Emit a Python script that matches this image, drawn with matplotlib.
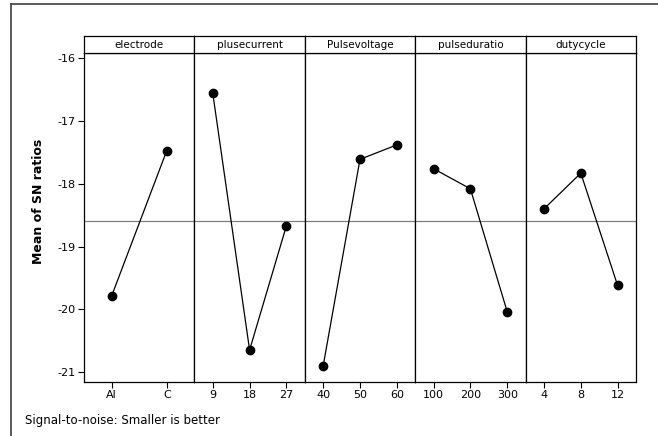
import numpy as np
import matplotlib.pyplot as plt
from matplotlib.lines import Line2D

# factors of the main effects plot
factors = ['electrode', 'plusecurrent', 'Pulsevoltage', 'pulseduratio', 'dutycycle']
levels = [
    ['Al', 'C'],
    ['9', '18', '27'],
    ['40', '50', '60'],
    ['100', '200', '300'],
    ['4', '8', '12'],
]
sn_means = [
    [-19.79, -17.47],
    [-16.56, -20.65, -18.67],
    [-20.90, -17.61, -17.38],
    [-17.76, -18.08, -20.04],
    [-18.40, -17.83, -19.62],
]
grand_mean = -18.60

yticks = [-16, -17, -18, -19, -20, -21]

W, H = 658, 436
fig = plt.figure(figsize=(W / 100, H / 100), dpi=100)

left, right = 84, 636
top_data, bottom_data = 53, 381.7
strip_h = 17
pw = (right - left) / len(factors)

for k, name in enumerate(factors):
    x0 = left + k * pw
    ax = fig.add_axes([x0 / W, (H - bottom_data) / H, pw / W, (bottom_data - top_data) / H])
    n = len(levels[k])
    xs = np.arange(1, n + 1)
    ax.axhline(grand_mean, color='#808080', lw=0.9, zorder=1)
    ax.plot(xs, sn_means[k], color='black', lw=0.9, marker='o', markersize=6, zorder=3)
    ax.set_xlim(0.5, n + 0.5)
    ax.set_ylim(-21.155, -15.915)
    ax.set_xticks(xs)
    ax.set_xticklabels(levels[k], fontsize=8)
    ax.tick_params(axis='x', direction='out', length=4, width=0.8, pad=2)
    if k == 0:
        ax.set_yticks(yticks)
        ax.set_yticklabels([str(v) for v in yticks], fontsize=8)
        ax.tick_params(axis='y', direction='out', length=4, width=0.8, pad=2)
    else:
        ax.set_yticks([])
    for s in ax.spines.values():
        s.set_linewidth(0.9)

    # strip with factor name
    sax = fig.add_axes([x0 / W, (H - top_data) / H, pw / W, strip_h / H])
    sax.set_xticks([])
    sax.set_yticks([])
    for s in sax.spines.values():
        s.set_linewidth(0.9)
    sax.text(0.5, 0.45, name, ha='center', va='center', fontsize=7.5, transform=sax.transAxes)

fig.text(38 / W, 1 - 201 / H, 'Mean of SN ratios', rotation=90, ha='center', va='center',
         fontsize=9, fontweight='bold')
fig.text(25 / W, 1 - 420 / H, 'Signal-to-noise: Smaller is better', ha='left', va='center',
         fontsize=8.5)

# outer frame
fig.add_artist(Line2D([10.5 / W, 10.5 / W], [0, 1 - 4.5 / H], color='#404040', lw=1.2))
fig.add_artist(Line2D([10.5 / W, 1], [1 - 4.5 / H, 1 - 4.5 / H], color='#404040', lw=1.2))

fig.savefig('out.png', dpi=100)
